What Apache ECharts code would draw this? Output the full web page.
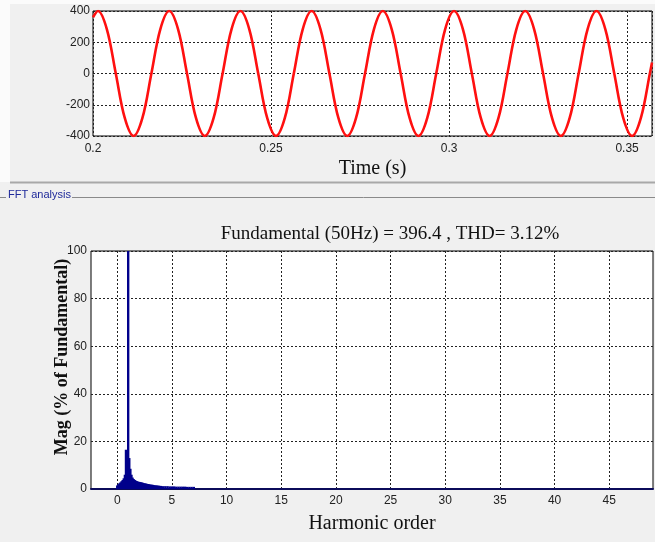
<!DOCTYPE html>
<html>
<head>
<meta charset="utf-8">
<script src="https://cdn.jsdelivr.net/npm/echarts@6/dist/echarts.min.js"></script>
<style>
  html, body { margin: 0; padding: 0; background: #f0f0f0; }
  #chart { width: 655px; height: 542px; }
</style>
</head>
<body>
<div id="chart"></div>
<script>
// Voltage waveform samples (time in s, voltage in V)
const timeS = [
  0.2000,
  0.2014, 0.2039, 0.2064, 0.2089, 0.2114, 0.2139, 0.2164, 0.2189,
  0.2214, 0.2239, 0.2264, 0.2289, 0.2314, 0.2339, 0.2364, 0.2389,
  0.2414, 0.2439, 0.2464, 0.2489, 0.2514, 0.2539, 0.2564, 0.2589,
  0.2614, 0.2639, 0.2664, 0.2689, 0.2714, 0.2739, 0.2764, 0.2789,
  0.2814, 0.2839, 0.2864, 0.2889, 0.2914, 0.2939, 0.2964, 0.2989,
  0.3014, 0.3039, 0.3064, 0.3089, 0.3114, 0.3139, 0.3164, 0.3189,
  0.3214, 0.3239, 0.3264, 0.3289, 0.3314, 0.3339, 0.3364, 0.3389,
  0.3414, 0.3439, 0.3464, 0.3489, 0.3514, 0.3539, 0.3564,
  0.3570
];
const voltage = [
  360,
  400, 283, 0, -283, -400, -283, 0, 283,
  400, 283, 0, -283, -400, -283, 0, 283,
  400, 283, 0, -283, -400, -283, 0, 283,
  400, 283, 0, -283, -400, -283, 0, 283,
  400, 283, 0, -283, -400, -283, 0, 283,
  400, 283, 0, -283, -400, -283, 0, 283,
  400, 283, 0, -283, -400, -283, 0, 283,
  400, 283, 0, -283, -400, -283, 0,
  70
];
const timeTicks = [0.2, 0.25, 0.3, 0.35];

// FFT spectrum (harmonic order, magnitude in % of fundamental)
const harmonic = [
  0.0, 0.1, 0.2, 0.3, 0.4, 0.5, 0.6, 0.7, 0.8, 0.9,
  1.0, 1.1, 1.2, 1.3, 1.4, 1.5, 1.6, 1.7, 1.8, 1.9,
  2.0, 2.1, 2.2, 2.3, 2.4, 2.5, 2.6, 2.7, 2.8, 2.9,
  3.0, 3.1, 3.2, 3.3, 3.4, 3.5, 3.6, 3.7, 3.8, 3.9,
  4.0, 4.2, 4.4, 4.6, 4.8, 5.0, 5.2, 5.4, 5.6, 5.8,
  6.0, 6.2, 6.4, 6.6, 6.8, 7.0
];
const magnitude = [
  1.5, 2.0, 2.4, 2.8, 3.3, 3.8, 4.5, 6.0, 16.5, 15.0,
  100, 13.0, 8.5, 6.0, 4.8, 4.2, 3.8, 3.5, 3.3, 3.1,
  3.0, 2.9, 2.8, 2.7, 2.5, 2.4, 2.3, 2.2, 2.1, 2.0,
  1.9, 1.8, 1.8, 1.7, 1.6, 1.5, 1.5, 1.4, 1.4, 1.3,
  1.3, 1.2, 1.2, 1.2, 1.1, 1.1, 1.1, 1.0, 1.0, 1.0,
  1.0, 1.0, 0.9, 0.9, 0.9, 0.9
];
const harmonicTicks = [0, 5, 10, 15, 20, 25, 30, 35, 40, 45];
const fundamentalHz = 50;
const fundamentalMag = 396.4;
const thdPercent = 3.12;

const NARROW = "'Liberation Sans Narrow', 'Liberation Sans', Arial, sans-serif";
const SERIF = "'Liberation Serif', 'Times New Roman', serif";

const dotted = { color: '#222', width: 1, type: [2, 2] };

const chart = echarts.init(document.getElementById('chart'), null, { renderer: 'canvas' });

chart.setOption({
  backgroundColor: '#f0f0f0',
  animation: false,
  title: {
    text: 'Fundamental (' + fundamentalHz + 'Hz) = ' + fundamentalMag + ' , THD= ' + thdPercent + '%',
    left: 385, top: 220, textAlign: 'center',
    textStyle: { fontFamily: SERIF, fontSize: 19, fontWeight: 'normal', color: '#111' }
  },
  graphic: [
    { type: 'rect', shape: { x: 0, y: 0, width: 655, height: 4 }, style: { fill: '#fbfbfb' }, silent: true },
    { type: 'rect', shape: { x: 0, y: 0, width: 10, height: 182 }, style: { fill: '#fbfbfb' }, silent: true },
    { type: 'line', shape: { x1: 10, y1: 182.5, x2: 655, y2: 182.5 }, style: { stroke: '#a8a8a8', lineWidth: 2 }, silent: true },
    { type: 'line', shape: { x1: 0, y1: 197.5, x2: 6, y2: 197.5 }, style: { stroke: '#8a8a8a', lineWidth: 1 }, silent: true },
    { type: 'line', shape: { x1: 72, y1: 197.5, x2: 655, y2: 197.5 }, style: { stroke: '#8a8a8a', lineWidth: 1 }, silent: true },
    { type: 'text', left: 8, top: 189, style: { text: 'FFT analysis', font: '11px ' + NARROW, fill: '#1f2a9a' }, silent: true },
    // y-axis title of the spectrum panel
    {
      type: 'text', x: 62, y: 357, rotation: Math.PI / 2,
      style: { text: 'Mag (% of Fundamental)', font: 'bold 18px ' + SERIF, fill: '#111',
               textAlign: 'center', textVerticalAlign: 'middle' },
      silent: true
    }
  ],
  grid: [
    { left: 93, top: 11, right: 3, height: 125, show: true, backgroundColor: '#fff', borderColor: '#000', borderWidth: 1 },
    { left: 91, top: 251, right: 2, height: 238, show: true, backgroundColor: '#fff', borderColor: '#000', borderWidth: 1 }
  ],
  xAxis: [
    {
      gridIndex: 0, type: 'value', min: 0.2, max: 0.357, interval: 0.05,
      name: 'Time (s)', nameLocation: 'middle', nameGap: 23,
      nameTextStyle: { fontFamily: SERIF, fontSize: 20, color: '#111' },
      axisLine: { show: false }, axisTick: { show: false },
      axisLabel: { fontFamily: NARROW, fontSize: 12, color: '#222', margin: 7,
                   customValues: timeTicks, formatter: v => String(+v.toFixed(2)) },
      splitLine: { show: true, lineStyle: dotted }
    },
    {
      gridIndex: 1, type: 'value', min: -2.4, max: 49,
      name: 'Harmonic order', nameLocation: 'middle', nameGap: 25,
      nameTextStyle: { fontFamily: SERIF, fontSize: 20, color: '#111' },
      axisLine: { show: true, onZero: false, lineStyle: { color: '#0b0b5a', width: 2 } },
      axisTick: { show: false, customValues: harmonicTicks },
      axisLabel: { fontFamily: NARROW, fontSize: 12, color: '#222', margin: 6, customValues: harmonicTicks },
      splitLine: { show: true, lineStyle: dotted }
    }
  ],
  yAxis: [
    {
      gridIndex: 0, type: 'value', min: -400, max: 400, interval: 200,
      axisLine: { show: false }, axisTick: { show: false },
      axisLabel: { fontFamily: NARROW, fontSize: 12, color: '#222', margin: 3 },
      splitLine: { show: true, lineStyle: dotted }
    },
    {
      gridIndex: 1, type: 'value', min: 0, max: 100, interval: 20,
      axisLine: { show: false }, axisTick: { show: false },
      axisLabel: { fontFamily: NARROW, fontSize: 12, color: '#222', margin: 4 },
      splitLine: { show: true, lineStyle: dotted }
    }
  ],
  series: [
    {
      type: 'line', xAxisIndex: 0, yAxisIndex: 0,
      data: timeS.map((t, i) => [t, voltage[i]]),
      smooth: 0.35, showSymbol: false,
      lineStyle: { color: '#ff1010', width: 2.6 },
      clip: true
    },
    {
      type: 'bar', xAxisIndex: 1, yAxisIndex: 1,
      data: harmonic.map((h, i) => [h, magnitude[i]]),
      barWidth: 2.4,
      itemStyle: { color: '#00008b' },
      clip: true
    }
  ]
});
</script>
</body>
</html>
